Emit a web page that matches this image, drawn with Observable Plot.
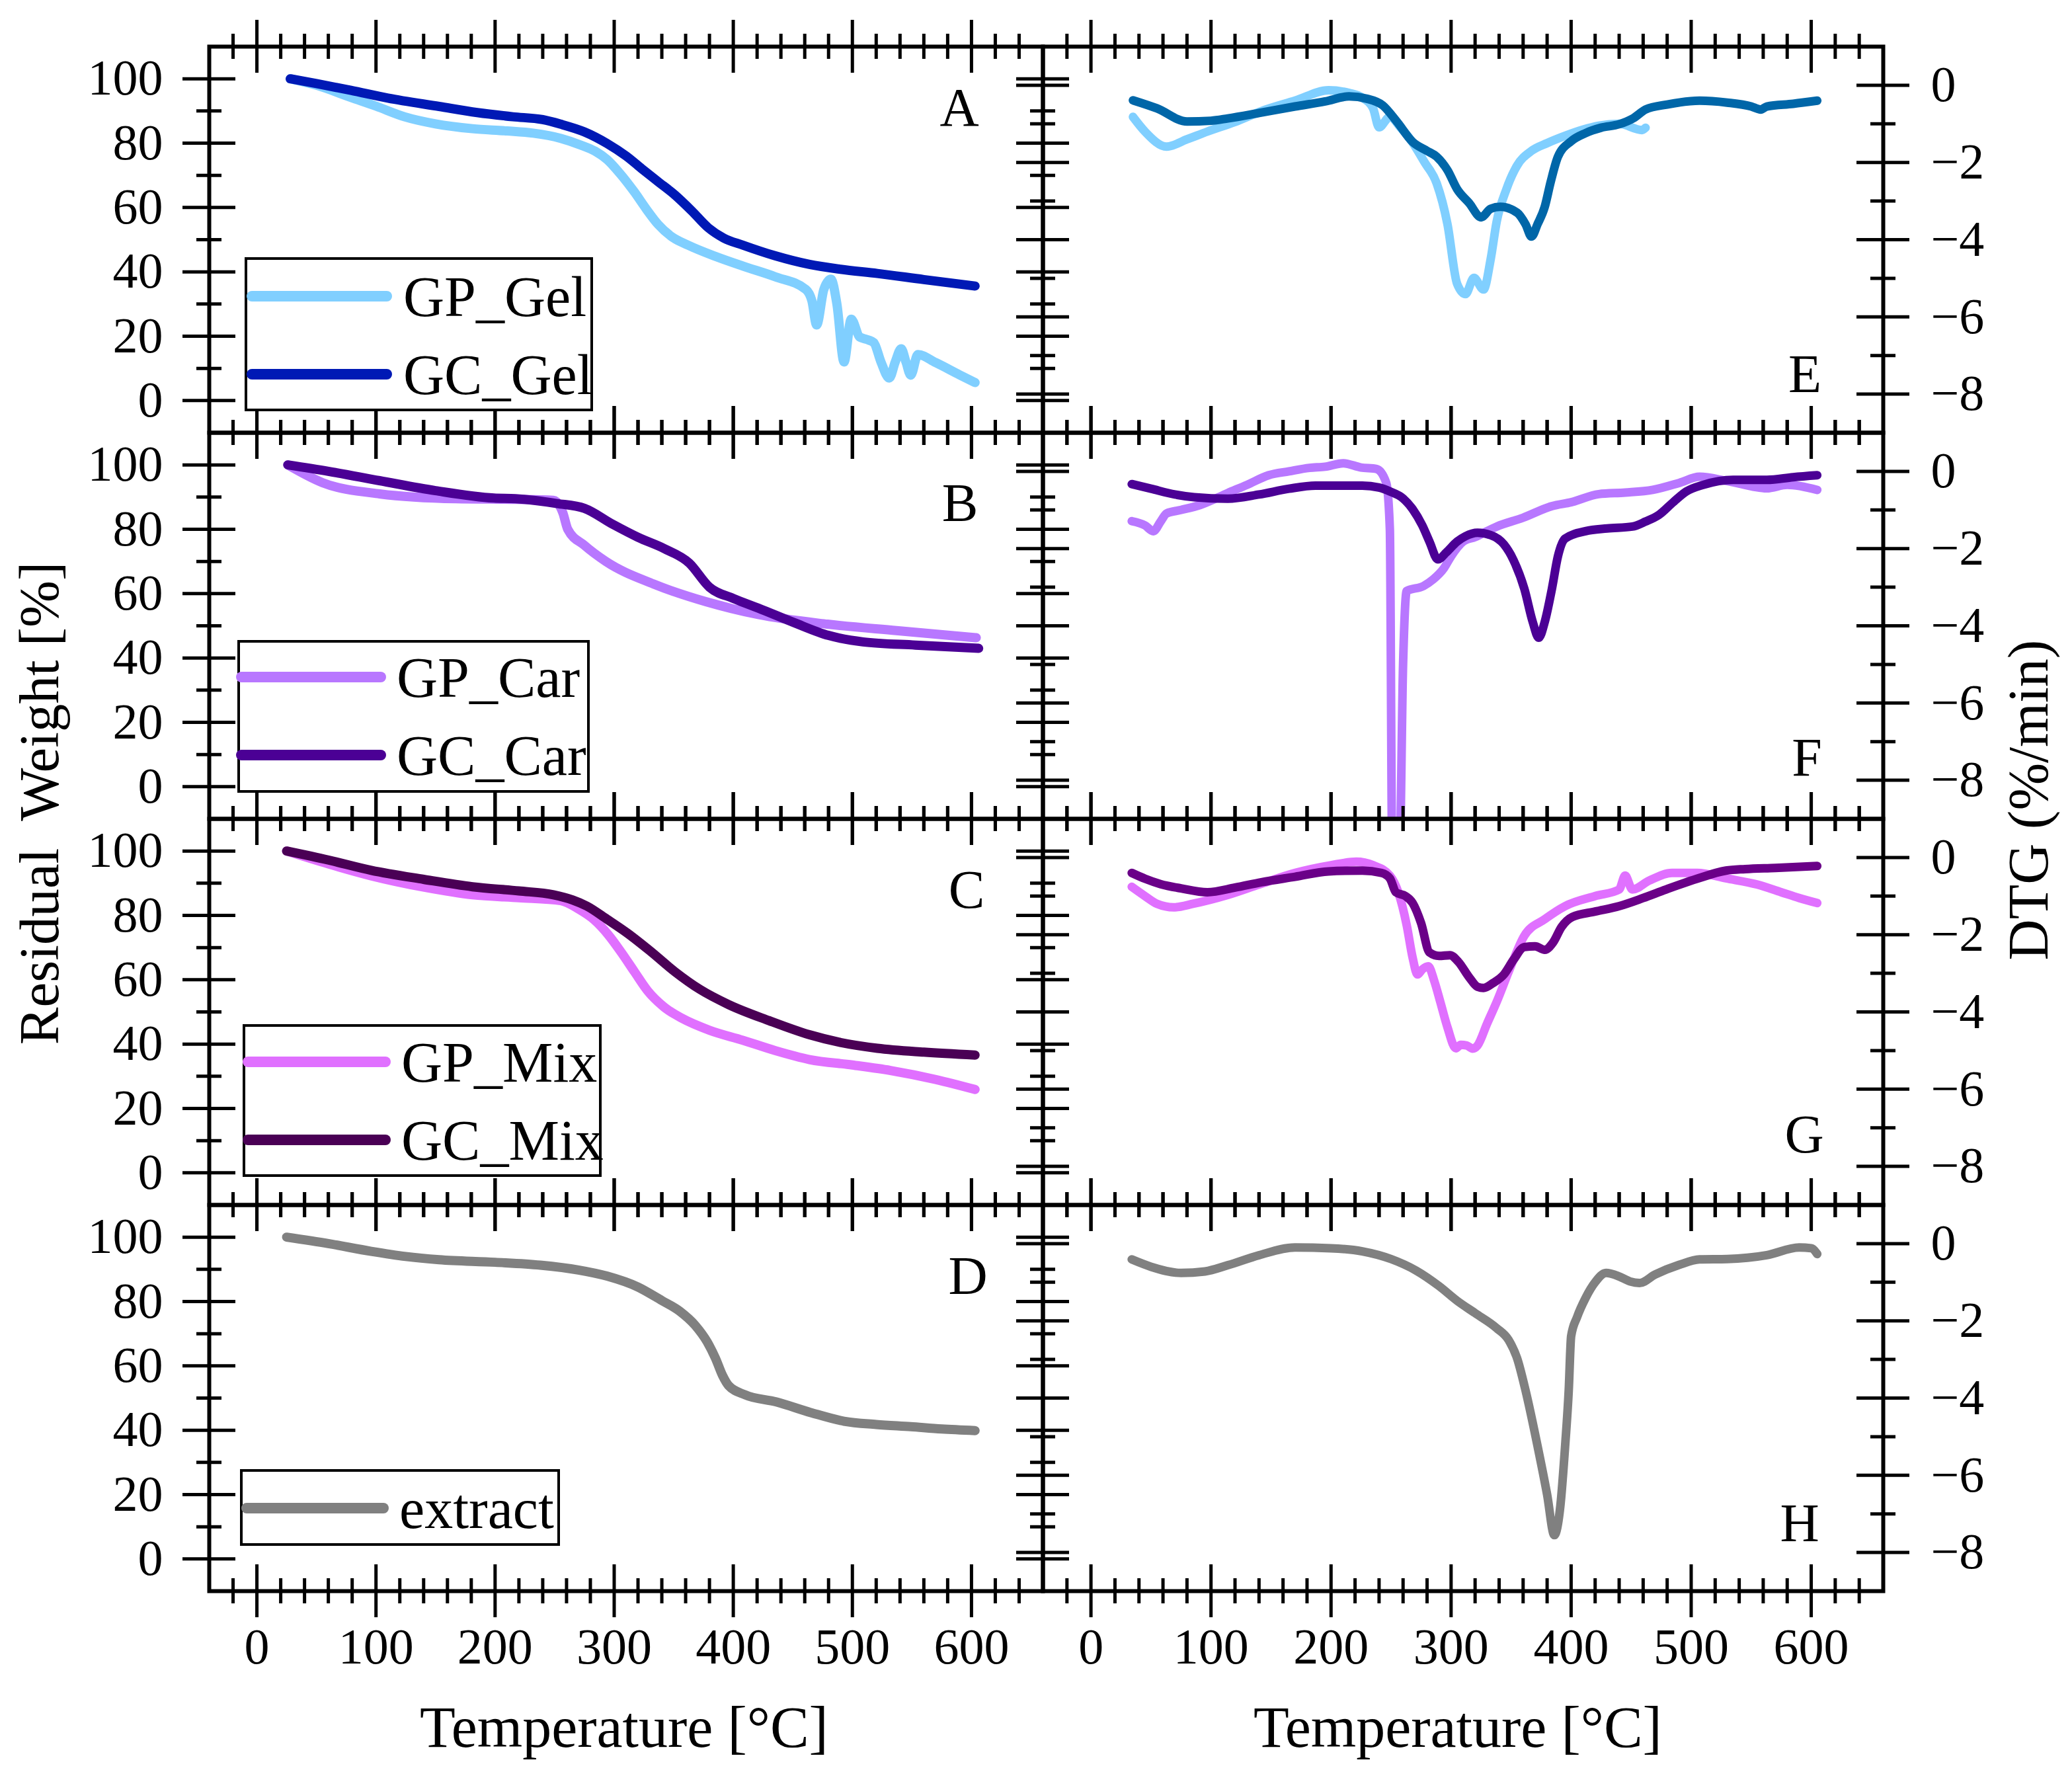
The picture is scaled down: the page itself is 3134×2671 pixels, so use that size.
<!DOCTYPE html>
<html>
<head>
<meta charset="utf-8">
<script src="https://cdn.jsdelivr.net/npm/d3@7"></script>
<script src="https://cdn.jsdelivr.net/npm/@observablehq/plot@0.6"></script>
<style>
  body { margin: 0; background: white; }
  #chart { position: relative; width: 3134px; height: 2671px; font-family: "Liberation Serif", serif; }
  #chart > div { position: absolute; }
</style>
</head>
<body>
<div id="chart"></div>
<script>
// ---- data, [temperature °C, value] ----
const gpGelTG = [[28,100],[50,98],[79,94.2],[100,91.5],[124,88.2],[150,86],[181,84.5],[210,83.8],[232,83.1],[255,81.5],[272,79.4],[284,77.5],[294,74.9],[305,70.5],[317,64.8],[327,59.5],[337,54.7],[348,51],[362,48.3],[385,44.8],[408,41.8],[435,38.5],[461,34.5],[466,31],[470,23.5],[476,34.5],[482,37.7],[487,30],[493,12],[499,25.3],[506,19.8],[512,19],[518,18],[524,12],[531,7],[536,12],[541,16.1],[545,12],[549,7.9],[555,14.3],[570,11.8],[590,8],[603,5.6]]
const gcGelTG = [[28,100],[50,98.5],[79,96.4],[110,94],[153,91.4],[185,89.5],[215,88.2],[240,87.3],[255,85.9],[275,83.5],[294,79.9],[310,76],[323,72.1],[337,68],[351,63.9],[365,59],[379,53.7],[392,50.5],[408,48.3],[435,45],[464,42.3],[490,40.8],[521,39.5],[560,37.6],[603,35.6]]
const gpCarTG = [[26,100],[55,94.5],[103,91],[167,89.5],[218,89.3],[249,89],[257,85],[261,80],[275,75],[293,70],[333,63],[377,57.5],[421,53.5],[479,50.5],[537,48.5],[604,46.3]]
const gcCarTG = [[26,100],[60,98],[103,95.1],[150,92],[199,89.7],[217,89.5],[252,88],[275,86.5],[299,81.5],[320,77.5],[342,74],[363,69.5],[380,62],[400,58.5],[421,55.5],[451,51],[480,47],[509,45],[553,44],[606,43]]
const gpMixTG = [[25,100],[60,96],[96,92.3],[140,88.8],[181,86.4],[220,85.5],[255,84.6],[270,82],[283,78.7],[295,74],[306,68.5],[317,62.5],[328,56.6],[342,51.5],[357,48],[380,44.3],[408,41.2],[435,38],[464,35.2],[500,33.5],[532,31.8],[570,29],[603,25.9]]
const gcMixTG = [[25,100],[60,97.2],[96,94],[140,91.2],[181,88.9],[220,87.6],[249,86.4],[265,84.8],[277,82.9],[294,78.8],[311,74.5],[330,69],[351,62.5],[372,57],[396,52.3],[430,47.3],[464,42.9],[490,40.5],[521,38.7],[560,37.5],[603,36.6]]
const extractTG = [[25,100],[60,98],[96,95.6],[125,94],[153,93],[200,92.2],[238,91.3],[270,89.8],[294,87.9],[320,84.5],[340,80.3],[355,77],[368,72.6],[378,67.5],[385,62.4],[391,57],[396,53.9],[410,51],[436,48.8],[465,45.5],[493,42.8],[520,41.8],[549,41.1],[575,40.4],[603,39.9]]

const gpGelDTG = [[35,-0.82],[45,-1.2],[63,-1.59],[80,-1.4],[97,-1.2],[120,-0.95],[142,-0.67],[170,-0.4],[198,-0.13],[215,-0.2],[226,-0.32],[235,-0.6],[240,-1.09],[249,-0.82],[258,-1.1],[266,-1.4],[278,-2],[288,-2.54],[297,-3.6],[305,-5.14],[312,-5.41],[319,-4.99],[327,-5.29],[333,-4.5],[338,-3.53],[346,-2.7],[355,-2.08],[367,-1.7],[380,-1.5],[395,-1.31],[410,-1.15],[423,-1.05],[440,-1],[459,-1.16],[462,-1.1]]
const gcGelDTG = [[35,-0.39],[55,-0.6],[80,-0.94],[100,-0.92],[114,-0.86],[140,-0.72],[170,-0.55],[195,-0.42],[215,-0.29],[230,-0.35],[243,-0.52],[255,-0.95],[268,-1.47],[280,-1.7],[288,-1.85],[297,-2.2],[305,-2.69],[315,-3.05],[325,-3.42],[333,-3.2],[341,-3.15],[355,-3.3],[362,-3.6],[367,-3.92],[372,-3.6],[378,-3.15],[383,-2.5],[389,-1.85],[400,-1.45],[412,-1.24],[425,-1.1],[440,-1.01],[452,-0.85],[462,-0.63],[480,-0.5],[507,-0.4],[530,-0.45],[550,-0.55],[558,-0.63],[563,-0.55],[585,-0.48],[605,-0.4]]
const gpCarDTG = [[34,-1.29],[45,-1.4],[52,-1.55],[58,-1.3],[63,-1.09],[75,-1],[91,-0.87],[114,-0.56],[130,-0.35],[148,-0.1],[165,0],[182,0.09],[195,0.12],[210,0.21],[225,0.1],[238,0.06],[246,-0.3],[249,-1.5],[251,-10],[257,-10],[260,-5],[263,-3.1],[277,-2.97],[285,-2.8],[294,-2.51],[300,-2.2],[310,-1.82],[320,-1.7],[338,-1.43],[360,-1.2],[384,-0.9],[400,-0.8],[423,-0.59],[445,-0.55],[468,-0.48],[490,-0.3],[507,-0.14],[530,-0.25],[563,-0.44],[580,-0.35],[605,-0.48]]
const gcCarDTG = [[34,-0.33],[50,-0.45],[70,-0.6],[86,-0.67],[114,-0.71],[140,-0.6],[165,-0.45],[187,-0.37],[210,-0.37],[226,-0.37],[240,-0.42],[249,-0.52],[260,-0.7],[268,-0.98],[276,-1.4],[282,-1.82],[289,-2.28],[296,-2.1],[305,-1.82],[312,-1.68],[322,-1.59],[333,-1.65],[344,-1.89],[352,-2.3],[361,-3.04],[368,-3.9],[373,-4.31],[378,-3.9],[384,-3.04],[389,-2.2],[395,-1.74],[412,-1.55],[430,-1.48],[451,-1.43],[462,-1.3],[473,-1.13],[485,-0.8],[496,-0.52],[510,-0.35],[535,-0.22],[563,-0.22],[585,-0.15],[605,-0.1]]
const gpMixDTG = [[34,-0.76],[45,-1],[55,-1.2],[69,-1.29],[85,-1.2],[114,-0.97],[140,-0.7],[170,-0.4],[200,-0.2],[221,-0.11],[235,-0.2],[249,-0.47],[256,-0.9],[263,-1.75],[268,-2.6],[272,-3.03],[276,-2.9],[281,-2.82],[286,-3.2],[291,-3.74],[297,-4.4],[304,-4.94],[308,-4.85],[313,-4.87],[318,-4.95],[322,-4.87],[330,-4.3],[338,-3.74],[350,-2.8],[361,-2.03],[378,-1.6],[395,-1.26],[420,-1],[440,-0.83],[445,-0.47],[451,-0.83],[465,-0.6],[484,-0.4],[505,-0.4],[529,-0.54],[555,-0.7],[575,-0.9],[590,-1.05],[605,-1.18]]
const gcMixDTG = [[34,-0.4],[45,-0.55],[58,-0.69],[75,-0.8],[97,-0.9],[120,-0.78],[142,-0.64],[170,-0.5],[198,-0.36],[226,-0.34],[242,-0.4],[249,-0.54],[254,-0.9],[262,-1],[268,-1.18],[275,-1.7],[282,-2.46],[290,-2.55],[299,-2.53],[306,-2.7],[315,-3.1],[322,-3.35],[327,-3.38],[335,-3.25],[344,-3.03],[352,-2.65],[361,-2.32],[370,-2.3],[378,-2.39],[385,-2.2],[392,-1.8],[401,-1.54],[420,-1.4],[440,-1.26],[460,-1.05],[479,-0.83],[505,-0.55],[529,-0.34],[545,-0.3],[570,-0.27],[605,-0.22]]
const extractDTG = [[34,-0.41],[50,-0.6],[75,-0.76],[95,-0.72],[114,-0.56],[140,-0.3],[170,-0.1],[200,-0.12],[226,-0.2],[250,-0.4],[271,-0.7],[290,-1.1],[305,-1.48],[320,-1.8],[338,-2.19],[348,-2.5],[355,-2.97],[362,-3.8],[372,-5.24],[380,-6.5],[386,-7.55],[391,-6.8],[395,-5.24],[398,-3.8],[400,-2.4],[405,-1.9],[412,-1.41],[420,-1],[429,-0.76],[440,-0.85],[449,-0.98],[457,-1.02],[470,-0.8],[490,-0.55],[507,-0.41],[530,-0.4],[563,-0.3],[590,-0.1],[600,-0.12],[605,-0.27]]

// ---- ticks ----
const tempTicks = [0, 100, 200, 300, 400, 500, 600]
const tempMinor = d3.range(-20, 660, 20).filter(t => t % 100 !== 0)
const tgTicks = [0, 20, 40, 60, 80, 100]
const tgMinor = [10, 30, 50, 70, 90]
const dtgTicks = [0, -2, -4, -6, -8]
const dtgMinor = [-1, -3, -5, -7]

const colors = {
  gpGel: "#80cfff", gcGel: "#0019b5", gcGelDtg: "#0066a8",
  gpCar: "#b877ff", gcCar: "#4b0095",
  gpMix: "#e070ff", gcMix: "#4a0055", gcMixDtg: "#6a0088",
  extract: "#808080"
}

// ---- layout (page pixels) ----
const colX = [[316, 1577], [1577, 2848]]
const rowTop = 70, rowH = 584
const M = {top: 60, right: 140, bottom: 170, left: 140}
const font = "Liberation Serif"
const fmt = d => d < 0 ? "\u2212" + (-d) : String(d)

const panels = [
  {col: 0, row: 0, kind: "tg", letter: "A", letterAt: [1451, 162],
   series: [{name: "GP_Gel", data: gpGelTG, color: colors.gpGel}, {name: "GC_Gel", data: gcGelTG, color: colors.gcGel}],
   legend: {box: [372, 391, 895, 620], lineX: [381, 585], textX: 610, rows: [448, 566]}},
  {col: 0, row: 1, kind: "tg", letter: "B", letterAt: [1452, 760],
   series: [{name: "GP_Car", data: gpCarTG, color: colors.gpCar}, {name: "GC_Car", data: gcCarTG, color: colors.gcCar}],
   legend: {box: [361, 970, 890, 1197], lineX: [365, 576], textX: 600, rows: [1024, 1142]}},
  {col: 0, row: 2, kind: "tg", letter: "C", letterAt: [1462, 1345],
   series: [{name: "GP_Mix", data: gpMixTG, color: colors.gpMix}, {name: "GC_Mix", data: gcMixTG, color: colors.gcMix}],
   legend: {box: [369, 1551, 908, 1778], lineX: [375, 583], textX: 607, rows: [1606, 1724]}},
  {col: 0, row: 3, kind: "tg", letter: "D", letterAt: [1464, 1929],
   series: [{name: "extract", data: extractTG, color: colors.extract}],
   legend: {box: [365, 2224, 845, 2336], lineX: [373, 580], textX: 604, rows: [2281]}},
  {col: 1, row: 0, kind: "dtg", letter: "E", letterAt: [2730, 565],
   series: [{data: gpGelDTG, color: colors.gpGel}, {data: gcGelDTG, color: colors.gcGelDtg}]},
  {col: 1, row: 1, kind: "dtg", letter: "F", letterAt: [2733, 1145],
   series: [{data: gpCarDTG, color: colors.gpCar}, {data: gcCarDTG, color: colors.gcCar}]},
  {col: 1, row: 2, kind: "dtg", letter: "G", letterAt: [2729, 1715],
   series: [{data: gpMixDTG, color: colors.gpMix}, {data: gcMixDTG, color: colors.gcMixDtg}]},
  {col: 1, row: 3, kind: "dtg", letter: "H", letterAt: [2722, 2303],
   series: [{data: extractDTG, color: colors.extract}]}
]

function makePanel(p) {
  const [x0, x1] = colX[p.col]
  const fw = x1 - x0, fh = rowH
  const tg = p.kind === "tg"
  const major = tg ? tgTicks : dtgTicks
  const minor = tg ? tgMinor : dtgMinor
  const marks = []

  // ticks crossing every side of the frame
  for (const [vals, len] of [[tempTicks, 40], [tempMinor, 19]]) {
    marks.push(Plot.ruleX(vals, {x: d => d, insetTop: -len, insetBottom: fh - len, strokeWidth: 5}))
    marks.push(Plot.ruleX(vals, {x: d => d, insetTop: fh - len, insetBottom: -len, strokeWidth: 5}))
  }
  for (const [vals, len] of [[major, 40], [minor, 19]]) {
    marks.push(Plot.ruleY(vals, {y: d => d, insetLeft: -len, insetRight: fw - len, strokeWidth: 5}))
    marks.push(Plot.ruleY(vals, {y: d => d, insetLeft: fw - len, insetRight: -len, strokeWidth: 5}))
  }

  for (const s of p.series) {
    marks.push(Plot.line(s.data, {
      x: d => d[0], y: d => d[1], stroke: s.color,
      strokeWidth: tg ? 14 : 13, strokeLinecap: "round", strokeLinejoin: "round",
      curve: "monotone-x", clip: true
    }))
  }
  marks.push(Plot.frame({stroke: "black", strokeWidth: 6}))

  if (tg) marks.push(Plot.text(major, {y: d => d, text: fmt, frameAnchor: "left", dx: -70, textAnchor: "end", fontSize: 76, fontFamily: font}))
  else marks.push(Plot.text(major, {y: d => d, text: fmt, frameAnchor: "right", dx: 72, textAnchor: "start", fontSize: 76, fontFamily: font}))
  if (p.row === 3) marks.push(Plot.text(tempTicks, {x: d => d, text: fmt, frameAnchor: "bottom", dy: 109, fontSize: 76, fontFamily: font}))

  const chart = Plot.plot({
    width: fw + M.left + M.right,
    height: fh + M.top + M.bottom,
    marginTop: M.top, marginRight: M.right, marginBottom: M.bottom, marginLeft: M.left,
    x: {domain: [-40, 660], axis: null},
    y: {domain: tg ? [-10, 110] : [-9, 1], axis: null},
    style: {background: "none", overflow: "visible", maxWidth: "none", fontFamily: font},
    marks
  })
  d3.select("#chart").append("div")
    .style("left", (x0 - M.left) + "px")
    .style("top", (rowTop + p.row * rowH - M.top) + "px")
    .append(() => chart)
}

panels.forEach(makePanel)

// overlay: legends, panel letters, axis titles
const overlay = d3.select("#chart").append("svg")
  .attr("width", 3134).attr("height", 2671)
  .style("position", "absolute").style("left", 0).style("top", 0)
  .style("font-family", font)

for (const p of panels) {
  if (p.legend) {
    const L = p.legend
    overlay.append("rect")
      .attr("x", L.box[0]).attr("y", L.box[1])
      .attr("width", L.box[2] - L.box[0]).attr("height", L.box[3] - L.box[1])
      .attr("fill", "white").attr("stroke", "black").attr("stroke-width", 4)
    p.series.forEach((s, i) => {
      overlay.append("line")
        .attr("x1", L.lineX[0]).attr("x2", L.lineX[1])
        .attr("y1", L.rows[i]).attr("y2", L.rows[i])
        .attr("stroke", s.color).attr("stroke-width", 16).attr("stroke-linecap", "round")
      overlay.append("text")
        .attr("x", L.textX).attr("y", L.rows[i] + 30)
        .attr("font-size", 86).text(s.name)
    })
  }
  overlay.append("text")
    .attr("x", p.letterAt[0]).attr("y", p.letterAt[1])
    .attr("text-anchor", "middle").attr("dominant-baseline", "central")
    .attr("font-size", 82).text(p.letter)
}

overlay.append("text")
  .attr("transform", "translate(88,1215) rotate(-90)")
  .attr("text-anchor", "middle").attr("font-size", 85)
  .style("white-space", "pre")
  .text("Residual  Weight [%]")
overlay.append("text")
  .attr("transform", "translate(3097,1210) rotate(-90)")
  .attr("text-anchor", "middle").attr("font-size", 86)
  .text("DTG (%/min)")
for (const cx of [944, 2205]) {
  overlay.append("text")
    .attr("x", cx).attr("y", 2642)
    .attr("text-anchor", "middle").attr("font-size", 88)
    .text("Temperature [°C]")
}
</script>
</body>
</html>
